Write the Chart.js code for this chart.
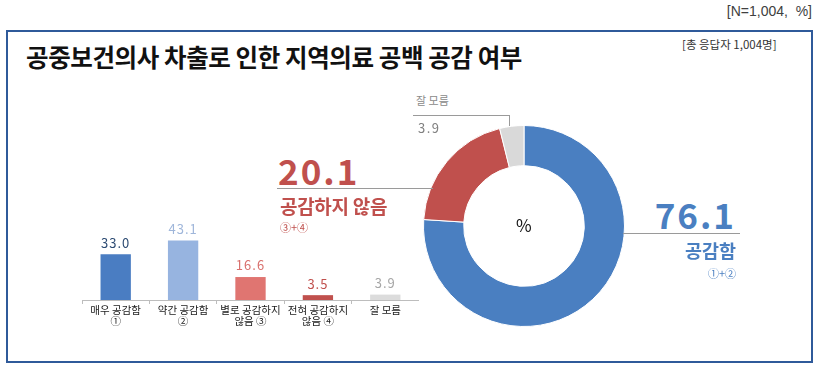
<!DOCTYPE html>
<html>
<head>
<meta charset="utf-8">
<script src="https://cdn.jsdelivr.net/npm/chart.js@4"></script>
<style>
  body { margin: 0; width: 822px; height: 368px; background: #fff; position: relative; overflow: hidden;
         font-family: "Noto Sans CJK KR", "Noto Sans", sans-serif; }
  .abs { position: absolute; white-space: nowrap; line-height: 1; }
  .box { position: absolute; left: 6px; top: 30px; width: 803px; height: 329px; border: 2px solid #2f5a9a; }
  .hline { position: absolute; height: 0; border-top: 1px solid #9a9a9a; }
  .vline { position: absolute; width: 0; border-left: 1px solid #9a9a9a; }
  canvas { position: absolute; }
</style>
</head>
<body>
<div class="abs" id="unit" style="right:10px; top:4px; font-family:'Liberation Sans',sans-serif; font-size:14px; color:#404040;">[N=1,004,&nbsp; %]</div>
<div class="box"></div>
<div class="abs" id="title" style="left:26px; top:45px; font-size:24.5px; font-weight:bold; color:#111; letter-spacing:-0.4px;">공중보건의사 차출로 인한 지역의료 공백 공감 여부</div>
<div class="abs" style="left:682px; top:39px; font-size:11.5px; color:#333;">[총 응답자 1,004명]</div>

<canvas id="barChart" width="337" height="135" style="left:82px; top:200px;"></canvas>
<canvas id="donutChart" width="202" height="202" style="left:423px; top:125px;"></canvas>

<!-- 잘 모름 callout -->
<div class="abs" style="left:416px; top:95px; font-size:11px; color:#8a8a8a;">잘 모름</div>
<div class="hline" style="left:413px; top:115px; width:96px;"></div>
<div class="vline" style="left:509px; top:115px; height:11px;"></div>
<div class="abs" style="left:418px; top:121px; font-size:13px; color:#7f7f7f; letter-spacing:1.5px;">3.9</div>

<!-- 공감하지 않음 callout -->
<div class="abs" style="left:278px; top:152px; font-size:35px; font-weight:bold; color:#c0504d; letter-spacing:2px;">20.1</div>
<div class="hline" style="left:277px; top:188px; width:156px;"></div>
<div class="abs" style="left:280px; top:196px; font-size:19px; font-weight:bold; color:#c0504d; letter-spacing:-0.3px;">공감하지 않음</div>
<div class="abs" style="left:280px; top:222px; font-size:11px; color:#c0504d;">③+④</div>

<!-- 공감함 callout -->
<div class="abs" style="right:86px; top:196px; font-size:35px; font-weight:bold; color:#4a7fc1; letter-spacing:2px;">76.1</div>
<div class="hline" style="left:623px; top:233px; width:117px;"></div>
<div class="abs" style="right:86px; top:241px; font-size:18.5px; font-weight:bold; color:#4a7fc1;">공감함</div>
<div class="abs" style="right:86px; top:268px; font-size:11px; color:#4a7fc1;">①+②</div>

<div class="abs" style="left:516px; top:216px; font-size:17px; color:#111;">%</div>

<script>
// bar chart data
const barLabels = [['매우 공감함', '①'], ['약간 공감함', '②'], ['별로 공감하지', '않음 ③'], ['전혀 공감하지', '않음 ④'], ['잘 모름']];
const barValues = [33.0, 43.1, 16.6, 3.5, 3.9];
const barColors = ['#4a7dc2', '#97b4e0', '#e07571', '#c0504d', '#dcdcdc'];
const valueColors = ['#2c4a72', '#9fb6da', '#d9706d', '#c0504d', '#a6a6a6'];

// doughnut data
const donutLabels = ['공감함', '공감하지 않음', '잘 모름'];
const donutValues = [76.1, 20.1, 3.9];
const donutColors = ['#4a7fc1', '#c0504d', '#d9d9d9'];

// writes the value above each bar
const barValuePlugin = {
  id: 'barValues',
  afterDatasetsDraw(chart) {
    const ctx = chart.ctx;
    const meta = chart.getDatasetMeta(0);
    ctx.save();
    ctx.font = '13px "Noto Sans CJK KR", sans-serif';
    ctx.letterSpacing = '1px';
    ctx.textAlign = 'center';
    ctx.textBaseline = 'bottom';
    meta.data.forEach((bar, i) => {
      ctx.fillStyle = valueColors[i];
      ctx.fillText(barValues[i].toFixed(1), bar.x, bar.y - 5);
    });
    ctx.restore();
  }
};

new Chart(document.getElementById('barChart'), {
  type: 'bar',
  data: {
    labels: barLabels,
    datasets: [{
      data: barValues,
      backgroundColor: barColors,
      barPercentage: 0.45,
      categoryPercentage: 1
    }]
  },
  options: {
    responsive: false,
    animation: false,
    events: [],
    layout: { padding: { top: 17, left: 0, right: 0, bottom: 0 } },
    plugins: { legend: { display: false }, tooltip: { enabled: false } },
    scales: {
      y: { display: false, min: 0, max: 60 },
      x: {
        afterFit: (s) => { s.height = 35; },
        grid: { display: true, drawOnChartArea: false, drawTicks: true, tickLength: 4, color: '#bdbdbd', offset: true },
        border: { display: true, color: '#bdbdbd' },
        ticks: {
          autoSkip: false, maxRotation: 0, minRotation: 0, padding: 1,
          color: '#1a1a1a',
          font: { family: '"Noto Sans CJK KR", sans-serif', size: 10.5, lineHeight: 1.0 }
        }
      }
    }
  },
  plugins: [barValuePlugin]
});

new Chart(document.getElementById('donutChart'), {
  type: 'doughnut',
  data: {
    labels: donutLabels,
    datasets: [{
      data: donutValues,
      backgroundColor: donutColors,
      borderColor: '#fff',
      borderWidth: 1,
      hoverOffset: 0,
      offset: 0
    }]
  },
  options: {
    responsive: false,
    animation: false,
    events: [],
    cutout: '60%',
    layout: { padding: 0 },
    plugins: { legend: { display: false }, tooltip: { enabled: false } }
  }
});
</script>
</body>
</html>
